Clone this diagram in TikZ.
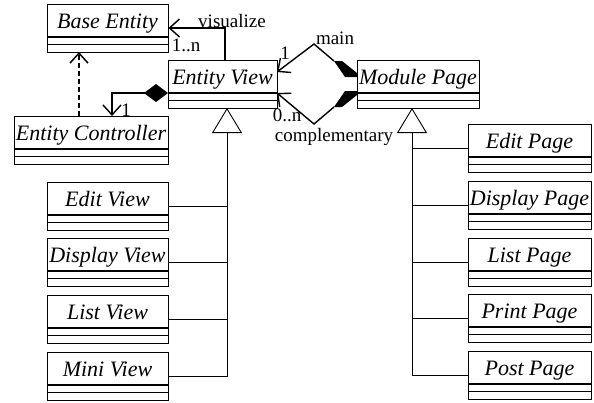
\documentclass[tikz,border=0pt]{standalone}
\usepackage{fontspec}
\setmainfont{Liberation Serif}
\usetikzlibrary{arrows.meta,fit,calc}
\tikzset{
  clsbox/.style={draw, line width=0.9pt, inner sep=0pt},
  divider/.style={line width=1.3pt},
  clsname/.style={font=\fontsize{22}{25}\selectfont\itshape, anchor=base, inner sep=0pt},
  lbl/.style={font=\fontsize{19}{22}\selectfont, inner sep=0pt},
  barb/.style={-{Straight Barb[length=10pt,width=18pt]}},
  assoc/.style={line width=1.4pt, barb},
  comp/.style={line width=1.4pt, {Diamond[length=24pt,width=18pt]}-{Straight Barb[length=10pt,width=18pt]}},
  dep/.style={line width=1.5pt, dash pattern=on 5pt off 3pt, barb},
  gen/.style={line width=0.9pt},
  genarrow/.style={gen, -{Triangle[open,length=25pt,width=30pt]}},
}
\newcommand{\umlclass}[5]{%
  \coordinate (#1-tl) at (#2,#3);
  \coordinate (#1-br) at (#4,#3+48);
  \node[clsbox, fit=(#1-tl)(#1-br)] (#1) {};
  \draw[divider] (#2,#3+33) -- (#4,#3+33) (#2,#3+40.5) -- (#4,#3+40.5);
  \node[clsname] (#1-t) at ($(#1.north)+(0,24.5)$) {#5};
}
\begin{document}
\begin{tikzpicture}[x=1pt,y=-1pt]
\useasboundingbox (0,0) rectangle (594,402);
\umlclass{be}{47}{4}{168}{Base Entity}
\umlclass{ev}{168}{60}{277}{Entity View}
\umlclass{ec}{14}{116}{168}{Entity Controller}
\umlclass{mp}{357}{60}{479}{Module Page}
\umlclass{edv}{47}{182}{168}{Edit View}
\umlclass{dsv}{47}{238}{168}{Display View}
\umlclass{lsv}{47}{295}{168}{List View}
\umlclass{mnv}{47}{352}{168}{Mini View}
\umlclass{edp}{468}{124}{591}{Edit Page}
\umlclass{dsp}{468}{181}{591}{Display Page}
\umlclass{lsp}{468}{238}{591}{List Page}
\umlclass{prp}{468}{294}{591}{Print Page}
\umlclass{psp}{468}{351}{591}{Post Page}

% generalization trees
\coordinate (evapex) at (227,108);
\draw[genarrow] (mnv.east) -| (evapex);
\foreach \c in {edv,dsv,lsv} \draw[gen] (\c.east) -- (\c.east -| evapex);
\coordinate (mpapex) at (412,108);
\draw[genarrow] (psp.west) -| (mpapex);
\foreach \c in {edp,dsp,lsp,prp} \draw[gen] (\c.west) -- (\c.west -| mpapex);

% visualize
\coordinate (visS) at (225,60);
\draw[assoc] (visS) |- (be.east);
\node[lbl] (visl) at (232,21) {visualize};
\node[lbl] (visn) at (186,45) {1..n};

% composition Entity View -> Entity Controller
\coordinate (evC) at (168,93);
\coordinate (ecC) at (112,116);
\draw[comp] (evC) -| (ecC);
\node[lbl] (compn) at (126,110) {1};

% dependency
\coordinate (ecD) at (79,116);
\coordinate (beD) at (79,52);
\draw[dep] (ecD) -- (beD);

% main
\coordinate (mpM) at (334,61);
\coordinate (apexM) at (314,44);
\coordinate (evM) at (277,72);
\draw[assoc] (mpM) -- (apexM) -- (evM);
\fill (334,61) -- (342,61) -- (357,73) -- (357,77) -- (345,77) -- cycle;
\node[lbl] (mainl) at (335,38) {main};
\node[lbl] (mainn) at (285,53) {1};

% complementary
\coordinate (mpC) at (334,107);
\coordinate (apexC) at (314,124);
\coordinate (evCc) at (277,93);
\draw[assoc] (mpC) -- (apexC) -- (evCc);
\fill (334,107) -- (342,107) -- (357,95) -- (357,91) -- (345,91) -- cycle;
\node[lbl] (compl) at (334,137) {complementary};
\node[lbl] (compln) at (287,115) {0..n};
\end{tikzpicture}
\end{document}
